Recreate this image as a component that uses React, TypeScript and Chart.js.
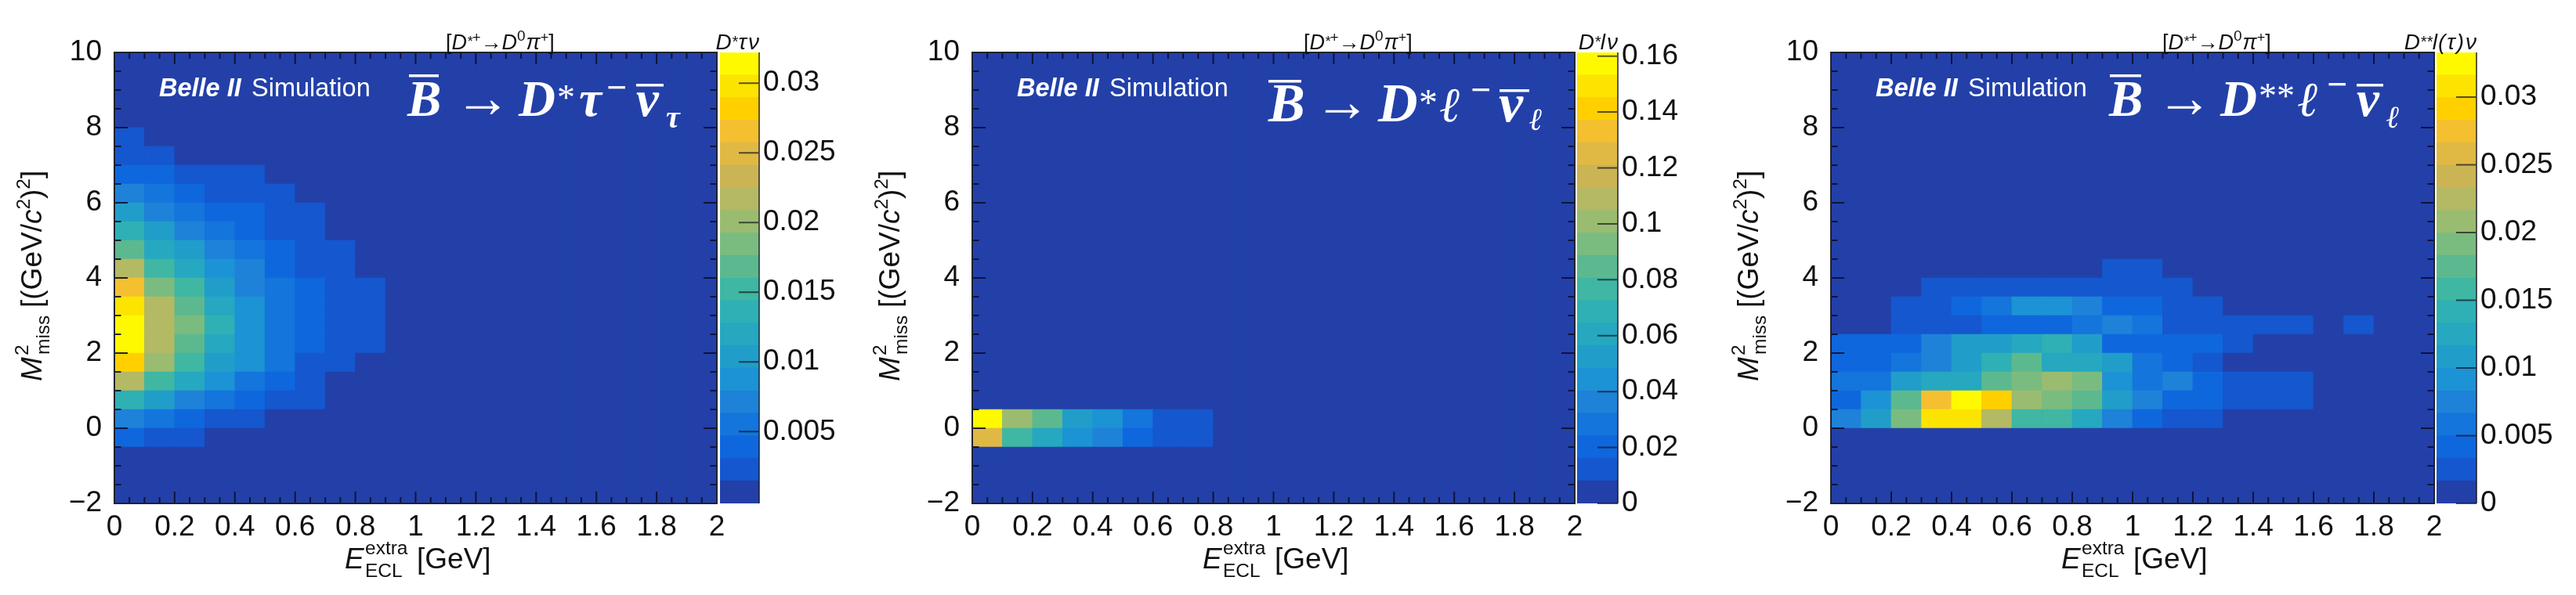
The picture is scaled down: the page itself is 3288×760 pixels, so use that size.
import React, { useEffect, useRef } from "react";
import { Chart, registerables } from "chart.js";

Chart.register(...registerables);

// ---------- shared axis data ----------
const xTickValues = [0, 0.2, 0.4, 0.6, 0.8, 1, 1.2, 1.4, 1.6, 1.8, 2];
const yTickValues = [-2, 0, 2, 4, 6, 8, 10];
const xCenters = [0.05, 0.15, 0.25, 0.35, 0.45, 0.55, 0.65, 0.75, 0.85, 0.95, 1.05, 1.15, 1.25, 1.35, 1.45, 1.55, 1.65, 1.75, 1.85, 1.95];
const yBinEdges = [-2, -1.5, -1, -0.5, 0, 0.5, 1, 1.5, 2, 2.5, 3, 3.5, 4, 4.5, 5, 5.5, 6, 6.5, 7, 7.5, 8, 8.5, 9, 9.5];

// ROOT-style 20-level palette, bottom to top
const paletteColors = [
  "#2340A9", "#1557CE", "#0F67DD", "#1475DC", "#1E82D8", "#1C93D4", "#209EC9", "#25A8C0", "#2FB0B4", "#3FB7A2",
  "#5CB98F", "#7ABC80", "#9ABC70", "#B4B963", "#CBB454", "#E0B945", "#F4C030", "#FFCF00", "#FDE300", "#FFF900",
];

// ---------- D* tau nu: each row starts at E = 0, name gives the lower M2 edge ----------
const tauRowM05 = [0.004, 0.0024, 0.0024];
const tauRow0 = [0.0072, 0.0056, 0.004, 0.0024, 0.0024];
const tauRow05 = [0.0137, 0.0105, 0.0072, 0.0056, 0.004, 0.0024, 0.0024];
const tauRow1 = [0.0217, 0.0153, 0.0121, 0.0089, 0.0056, 0.004, 0.0024];
const tauRow15 = [0.0282, 0.0201, 0.0153, 0.0105, 0.0089, 0.0056, 0.0024, 0.0024];
const tauRow2 = [0.0314, 0.0217, 0.0169, 0.0121, 0.0089, 0.0056, 0.004, 0.0024, 0.0024];
const tauRow25 = [0.0314, 0.0217, 0.0185, 0.0137, 0.0089, 0.0056, 0.004, 0.0024, 0.0024];
const tauRow3 = [0.0298, 0.0217, 0.0169, 0.0121, 0.0089, 0.0056, 0.004, 0.0024, 0.0024];
const tauRow35 = [0.0266, 0.0185, 0.0153, 0.0105, 0.0072, 0.0056, 0.004, 0.0024, 0.0024];
const tauRow4 = [0.0217, 0.0153, 0.0121, 0.0089, 0.0072, 0.004, 0.0024, 0.0024];
const tauRow45 = [0.0169, 0.0121, 0.0105, 0.0072, 0.0056, 0.004, 0.0024, 0.0024];
const tauRow5 = [0.0137, 0.0105, 0.0072, 0.0056, 0.004, 0.0024, 0.0024];
const tauRow55 = [0.0105, 0.0072, 0.0056, 0.004, 0.004, 0.0024, 0.0024];
const tauRow6 = [0.0072, 0.0056, 0.004, 0.0024, 0.0024, 0.0024];
const tauRow65 = [0.004, 0.004, 0.0024, 0.0024, 0.0024];
const tauRow7 = [0.0024, 0.0024];
const tauRow75 = [0.0024];

// ---------- D* l nu ----------
const lepRowM05 = [0.125, 0.0766, 0.0605, 0.0444, 0.0363, 0.0202, 0.0121, 0.0121];
const lepRow0 = [0.1573, 0.1008, 0.0847, 0.0524, 0.0444, 0.0282, 0.0121, 0.0121];

// ---------- D** l(tau) nu ----------
const dssRow0 = [0.0075, 0.0108, 0.0191, 0.0308, 0.0308, 0.0225, 0.0158, 0.0158, 0.0125, 0.0075, 0.0042, 0.0025, 0.0025];
const dssRow05 = [0.0042, 0.0092, 0.0175, 0.0275, 0.0325, 0.0291, 0.0208, 0.0191, 0.0175, 0.0108, 0.0075, 0.0042, 0.0042, 0.0025, 0.0025, 0.0025];
const dssRow1 = [0.0058, 0.0058, 0.0108, 0.0125, 0.0125, 0.0175, 0.0191, 0.0208, 0.0191, 0.0092, 0.0058, 0.0075, 0.0042, 0.0025, 0.0025, 0.0025];
const dssRow15 = [0.0042, 0.0042, 0.0058, 0.0075, 0.0108, 0.0141, 0.0175, 0.0125, 0.0125, 0.0108, 0.0058, 0.0042, 0.0025];
const dssRow2 = [0.0042, 0.0042, 0.0042, 0.0075, 0.0108, 0.0108, 0.0125, 0.0141, 0.0108, 0.0042, 0.0042, 0.0042, 0.0042, 0.0025];
const dssRow25 = [0, 0, 0.0025, 0.0025, 0.0025, 0.0042, 0.0042, 0.0042, 0.0058, 0.0075, 0.0058, 0.0025, 0.0025, 0.0025, 0.0025, 0.0025, 0, 0.0025];
const dssRow3 = [0, 0, 0.0025, 0.0025, 0.0042, 0.0058, 0.0092, 0.0092, 0.0075, 0.0042, 0.0042, 0.0025, 0.0025];
const dssRow35 = [0, 0, 0, 0.0025, 0.0025, 0.0025, 0.0025, 0.0025, 0.0025, 0.0025, 0.0025, 0.0025];
const dssRow4 = [0, 0, 0, 0, 0, 0, 0, 0, 0, 0.0025, 0.0025];

// ---------- colour-bar ticks ----------
const tauZTicks = [0.005, 0.01, 0.015, 0.02, 0.025, 0.03];
const lepZTicks = [0, 0.02, 0.04, 0.06, 0.08, 0.1, 0.12, 0.14, 0.16];
const dssZTicks = [0, 0.005, 0.01, 0.015, 0.02, 0.025, 0.03];

type Seg = { t: string; f: string; dy?: number; gap?: number };

const SANS = '"Liberation Sans"';
const SERIF = '"Liberation Serif"';
const TITLE_F = `italic 28px ${SANS}`;
const STAR_F = `italic 20px ${SANS}`;

const tauRows: Record<string, number[]> = {
  "-0.5": tauRowM05, "0": tauRow0, "0.5": tauRow05, "1": tauRow1, "1.5": tauRow15, "2": tauRow2, "2.5": tauRow25, "3": tauRow3, "3.5": tauRow35,
  "4": tauRow4, "4.5": tauRow45, "5": tauRow5, "5.5": tauRow55, "6": tauRow6, "6.5": tauRow65, "7": tauRow7, "7.5": tauRow75,
};
const lepRows: Record<string, number[]> = { "-0.5": lepRowM05, "0": lepRow0 };
const dssRows: Record<string, number[]> = {
  "0": dssRow0, "0.5": dssRow05, "1": dssRow1, "1.5": dssRow15, "2": dssRow2, "2.5": dssRow25, "3": dssRow3, "3.5": dssRow35, "4": dssRow4,
};

const bi = (s: number) => `italic bold ${s}px ${SERIF}`;
type Glyph = { t: string; x: number; y: number; s: number; plain?: boolean; bar?: [number, number] };

const panels = [
  {
    left: 146, right: 915, barLeft: 919, barRight: 969,
    rows: tauRows, zMin: -0.00015, zMax: 0.0322, zTicks: tauZTicks,
    zTitle: [
      { t: "D", f: TITLE_F }, { t: "*", f: STAR_F, dy: -3 }, { t: "τ", f: TITLE_F, gap: 1 }, { t: "ν", f: TITLE_F, gap: 2 },
    ] as Seg[],
    formula: [
      { t: "B", x: 374, y: 148, s: 65, bar: [376, 414] },
      { t: "→", x: 434, y: 149, s: 72, plain: true },
      { t: "D", x: 516, y: 148, s: 65 },
      { t: "*", x: 565, y: 140, s: 46, plain: true },
      { t: "τ", x: 593, y: 148, s: 65 },
      { t: "−", x: 628, y: 127, s: 46, plain: true },
      { t: "ν", x: 666, y: 148, s: 65, bar: [666, 701] },
      { t: "τ", x: 704, y: 163, s: 40 },
    ] as Glyph[],
  },
  {
    left: 1241, right: 2010, barLeft: 2013, barRight: 2065,
    rows: lepRows, zMin: 0, zMax: 0.1613, zTicks: lepZTicks,
    zTitle: [
      { t: "D", f: TITLE_F }, { t: "*", f: STAR_F, dy: -3 }, { t: "l", f: TITLE_F }, { t: "ν", f: TITLE_F, gap: 2 },
    ] as Seg[],
    formula: [
      { t: "B", x: 378, y: 155, s: 70, bar: [378, 420] },
      { t: "→", x: 436, y: 154, s: 72, plain: true },
      { t: "D", x: 518, y: 155, s: 70 },
      { t: "*", x: 570, y: 147, s: 48, plain: true },
      { t: "ℓ", x: 597, y: 155, s: 62 },
      { t: "−", x: 636, y: 130, s: 46, plain: true },
      { t: "ν", x: 672, y: 155, s: 70, bar: [673, 711] },
      { t: "ℓ", x: 711, y: 166, s: 40 },
    ] as Glyph[],
  },
  {
    left: 2337, right: 3107, barLeft: 3110, barRight: 3161,
    rows: dssRows, zMin: 0, zMax: 0.0333, zTicks: dssZTicks,
    zTitle: [
      { t: "D", f: TITLE_F }, { t: "**", f: STAR_F, dy: -3 }, { t: "l", f: TITLE_F }, { t: "(", f: TITLE_F, gap: 1 }, { t: "τ", f: TITLE_F, gap: 2 }, { t: ")", f: TITLE_F, gap: 2 }, { t: "ν", f: TITLE_F, gap: 2 },
    ] as Seg[],
    formula: [
      { t: "B", x: 355, y: 148, s: 65, bar: [356, 396] },
      { t: "→", x: 415, y: 149, s: 72, plain: true },
      { t: "D", x: 497, y: 148, s: 65 },
      { t: "**", x: 546, y: 138, s: 46, plain: true },
      { t: "ℓ", x: 596, y: 148, s: 62 },
      { t: "−", x: 633, y: 123, s: 46, plain: true },
      { t: "ν", x: 671, y: 148, s: 65, bar: [671, 705] },
      { t: "ℓ", x: 709, y: 163, s: 40 },
    ] as Glyph[],
  },
];

const TOP = 67;
const BOTTOM = 643;
const H = 760;
const AXIS_W = 146;
const PLOT_PAD_R = 30;
const TICK_COLOR = "rgba(12,16,44,0.9)";
const TEXT = "#111";

function widthOf(ctx: CanvasRenderingContext2D, segs: Seg[]) {
  let w = 0;
  for (const s of segs) {
    ctx.font = s.f;
    w += ctx.measureText(s.t).width + (s.gap || 0);
  }
  return w;
}

function flow(ctx: CanvasRenderingContext2D, x: number, y: number, segs: Seg[]) {
  let cx = x;
  ctx.textAlign = "left";
  ctx.textBaseline = "alphabetic";
  for (const s of segs) {
    cx += s.gap || 0;
    ctx.font = s.f;
    ctx.fillText(s.t, cx, y + (s.dy || 0));
    cx += ctx.measureText(s.t).width;
  }
  return cx;
}

function valueColor(v: number, zMin: number, zMax: number) {
  const i = Math.floor(((v - zMin) / (zMax - zMin)) * paletteColors.length);
  return paletteColors[Math.max(0, Math.min(paletteColors.length - 1, i))];
}

const minorX = Array.from({ length: 41 }, (_, i) => i * 0.05);
const minorY = Array.from({ length: 25 }, (_, i) => -2 + i * 0.5);

function makePlot(canvas: HTMLCanvasElement, p: (typeof panels)[number]) {
  const datasets = yBinEdges.map((lo) => {
    const row = p.rows[String(lo)] || [];
    return {
      label: `M2 ${lo}`,
      data: xCenters.map((x) => ({ x, y: [lo, lo + 0.5] })),
      backgroundColor: xCenters.map((_, i) => valueColor(row[i] || 0, p.zMin, p.zMax)),
      borderWidth: 0,
      grouped: false,
      barPercentage: 1,
      categoryPercentage: 1,
    };
  });
  const decor = {
    id: "decor",
    beforeDatasetsDraw(chart: any) {
      const { ctx, chartArea: a } = chart;
      ctx.save();
      ctx.fillStyle = paletteColors[0];
      ctx.fillRect(a.left, a.top, a.right - a.left, a.bottom - a.top);
      ctx.restore();
    },
    afterDraw(chart: any) {
      const { ctx, chartArea: a, scales } = chart;
      ctx.save();
      // minor and major ticks, mirrored on all four sides
      ctx.strokeStyle = TICK_COLOR;
      ctx.lineWidth = 2;
      ctx.beginPath();
      for (const v of minorX) {
        const px = scales.x.getPixelForValue(v);
        const len = xTickValues.some((t) => Math.abs(t - v) < 1e-6) ? 15 : 8;
        ctx.moveTo(px, a.bottom);
        ctx.lineTo(px, a.bottom - len);
        ctx.moveTo(px, a.top);
        ctx.lineTo(px, a.top + len);
      }
      for (const v of minorY) {
        const py = scales.y.getPixelForValue(v);
        const len = yTickValues.includes(v) ? 17 : 8.5;
        ctx.moveTo(a.left, py);
        ctx.lineTo(a.left + len, py);
        ctx.moveTo(a.right, py);
        ctx.lineTo(a.right - len, py);
      }
      ctx.stroke();
      // frame
      ctx.strokeStyle = "#20222e";
      ctx.lineWidth = 2;
      ctx.strokeRect(a.left, a.top, a.right - a.left, a.bottom - a.top);

      // text on the plot
      ctx.fillStyle = "#fff";
      flow(ctx, a.left + 57, 123, [{ t: "Belle II", f: `italic bold 32.5px ${SANS}` }]);
      flow(ctx, a.left + 175, 123, [{ t: "Simulation", f: `32.5px ${SANS}` }]);
      for (const g of p.formula) {
        const heavy = !g.plain || g.t === "−";
        ctx.font = g.plain ? `${heavy ? "bold " : ""}${g.s}px ${SERIF}` : bi(g.s);
        ctx.textAlign = "left";
        ctx.fillText(g.t, a.left + g.x, g.y);
        if (g.bar) {
          const barY = g.t === "B" ? g.y - 53 : g.y - 41;
          ctx.fillRect(a.left + g.bar[0], barY, g.bar[1] - g.bar[0], 3.5);
        }
      }

      // texts outside the plot
      ctx.fillStyle = TEXT;
      flow(ctx, a.left + 423, 63, [
        { t: "[", f: `27px ${SANS}` },
        { t: "D", f: `italic 27px ${SANS}` },
        { t: "*", f: `italic 18px ${SANS}`, dy: -4 },
        { t: "+", f: `18px ${SANS}`, dy: -9 },
        { t: "→", f: `27px ${SANS}` },
        { t: "D", f: `italic 27px ${SANS}` },
        { t: "0", f: `19px ${SANS}`, dy: -11 },
        { t: "π", f: `italic 27px ${SANS}`, gap: 1 },
        { t: "+", f: `18px ${SANS}`, dy: -9 },
        { t: "]", f: `27px ${SANS}` },
      ]);
      // x axis title
      const ex = a.left + 294;
      flow(ctx, ex, 726, [{ t: "E", f: `italic 37px ${SANS}` }]);
      flow(ctx, ex + 26, 708, [{ t: "extra", f: `24.5px ${SANS}` }]);
      flow(ctx, ex + 26, 737, [{ t: "ECL", f: `24.5px ${SANS}` }]);
      flow(ctx, ex + 92, 726, [{ t: "[GeV]", f: `37px ${SANS}` }]);
      // y axis title
      ctx.save();
      ctx.translate(a.left - 93, 487);
      ctx.rotate(-Math.PI / 2);
      flow(ctx, 0, 0, [{ t: "M", f: `italic 37px ${SANS}` }]);
      flow(ctx, 33, -17, [{ t: "2", f: `24.5px ${SANS}` }]);
      flow(ctx, 34, 10, [{ t: "miss", f: `24.5px ${SANS}` }]);
      flow(ctx, 94, 0, [
        { t: "[(GeV/", f: `37px ${SANS}` },
        { t: "c", f: `italic 37px ${SANS}` },
        { t: "2", f: `24.5px ${SANS}`, dy: -15 },
        { t: ")", f: `37px ${SANS}` },
        { t: "2", f: `24.5px ${SANS}`, dy: -15 },
        { t: "]", f: `37px ${SANS}` },
      ]);
      ctx.restore();
      ctx.restore();
    },
  };
  return new Chart(canvas, {
    type: "bar",
    data: { datasets } as any,
    plugins: [decor],
    options: {
      responsive: false,
      animation: false,
      layout: { padding: { left: 0, right: PLOT_PAD_R, top: TOP, bottom: 0 } },
      plugins: { legend: { display: false }, tooltip: { enabled: false }, title: { display: false } },
      scales: {
        x: {
          type: "linear",
          offset: false,
          min: 0,
          max: 2,
          grid: { display: false, drawTicks: false },
          border: { display: false },
          afterBuildTicks: (s: any) => {
            s.ticks = xTickValues.map((value) => ({ value }));
          },
          afterFit: (s: any) => {
            s.height = H - BOTTOM;
          },
          ticks: {
            autoSkip: false,
            maxRotation: 0,
            padding: 9,
            color: TEXT,
            font: { family: "Liberation Sans", size: 37 },
            callback: (v: any) => String(v),
          },
        },
        y: {
          type: "linear",
          min: -2,
          max: 10,
          grid: { display: false, drawTicks: false },
          border: { display: false },
          afterBuildTicks: (s: any) => {
            s.ticks = yTickValues.map((value) => ({ value }));
          },
          afterFit: (s: any) => {
            s.width = AXIS_W;
          },
          ticks: {
            autoSkip: false,
            padding: 16,
            color: TEXT,
            font: { family: "Liberation Sans", size: 37 },
            callback: (v: any) => String(v).replace("-", "−"),
          },
        },
      },
    } as any,
  });
}

function makeBar(canvas: HTMLCanvasElement, p: (typeof panels)[number], padLeft: number) {
  const n = paletteColors.length;
  const step = (p.zMax - p.zMin) / n;
  const datasets = paletteColors.map((c, i) => ({
    label: `level ${i}`,
    data: [[p.zMin + i * step, p.zMin + (i + 1) * step]],
    backgroundColor: c,
    borderWidth: 0,
    grouped: false,
    barPercentage: 1,
    categoryPercentage: 1,
  }));
  const decor = {
    id: "barDecor",
    afterDraw(chart: any) {
      const { ctx, chartArea: a, scales } = chart;
      ctx.save();
      ctx.strokeStyle = "rgba(20,20,30,0.7)";
      ctx.lineWidth = 2;
      ctx.beginPath();
      ctx.moveTo(a.right, a.top);
      ctx.lineTo(a.right, a.bottom);
      for (const v of p.zTicks) {
        const py = scales.y.getPixelForValue(v);
        ctx.moveTo(a.right, py);
        ctx.lineTo(a.right - 26, py);
      }
      ctx.stroke();
      ctx.fillStyle = TEXT;
      flow(ctx, a.right - widthOf(ctx, p.zTitle), 63, p.zTitle);
      ctx.restore();
    },
  };
  return new Chart(canvas, {
    type: "bar",
    data: { labels: ["z"], datasets } as any,
    plugins: [decor],
    options: {
      responsive: false,
      animation: false,
      layout: { padding: { left: padLeft, right: 0, top: TOP, bottom: H - BOTTOM } },
      plugins: { legend: { display: false }, tooltip: { enabled: false }, title: { display: false } },
      scales: {
        x: { display: false },
        y: {
          type: "linear",
          position: "right",
          min: p.zMin,
          max: p.zMax,
          grid: { display: false, drawTicks: false },
          border: { display: false },
          afterBuildTicks: (s: any) => {
            s.ticks = p.zTicks.map((value) => ({ value }));
          },
          afterFit: (s: any) => {
            s.width = 110;
          },
          ticks: {
            autoSkip: false,
            padding: 5,
            color: TEXT,
            font: { family: "Liberation Sans", size: 37 },
            callback: (v: any) => String(v),
          },
        },
      },
    } as any,
  });
}

function Panel({ p }: { p: (typeof panels)[number] }) {
  const plotRef = useRef<HTMLCanvasElement>(null);
  const barRef = useRef<HTMLCanvasElement>(null);
  useEffect(() => {
    const a = makePlot(plotRef.current!, p);
    const b = makeBar(barRef.current!, p, 60);
    return () => {
      a.destroy();
      b.destroy();
    };
  }, [p]);
  const plotW = AXIS_W + (p.right - p.left) + PLOT_PAD_R;
  const barW = 60 + (p.barRight - p.barLeft) + 110;
  return (
    <>
      <canvas
        ref={plotRef}
        width={plotW}
        height={H}
        style={{ position: "absolute", left: p.left - AXIS_W, top: 0, width: plotW, height: H }}
      />
      <canvas
        ref={barRef}
        width={barW}
        height={H}
        style={{ position: "absolute", left: p.barLeft - 60, top: 0, width: barW, height: H }}
      />
    </>
  );
}

export default function App() {
  return (
    <div style={{ position: "absolute", left: 0, top: 0, width: 3288, height: H, overflow: "hidden", background: "#fff", filter: "blur(0.6px)" }}>
      {panels.map((p) => (
        <Panel key={p.left} p={p} />
      ))}
    </div>
  );
}
